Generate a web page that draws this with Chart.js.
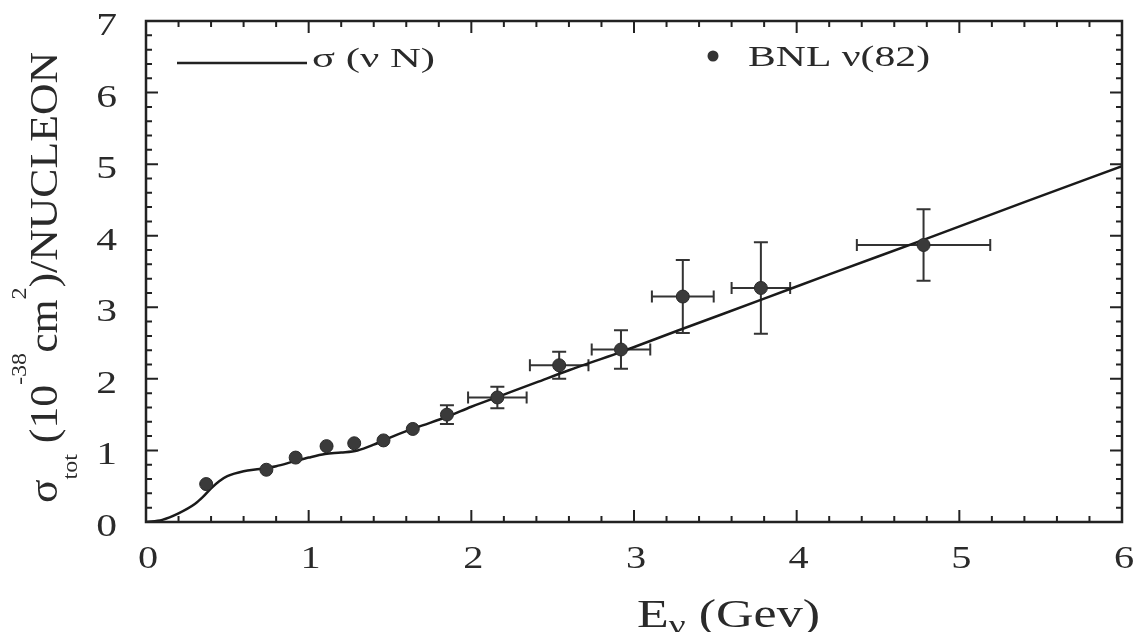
<!DOCTYPE html>
<html>
<head>
<meta charset="utf-8">
<script src="https://cdn.jsdelivr.net/npm/chart.js@4.4.1/dist/chart.umd.min.js"></script>
<style>
  html, body { margin: 0; padding: 0; background: #fff; }
  #wrap { width: 1140px; height: 632px; }
</style>
</head>
<body>
<div id="wrap"><canvas id="chart" width="1140" height="632"></canvas></div>
<script>
// BNL nu(82) measurements
const energy    = [0.37, 0.74, 0.92, 1.11, 1.28, 1.46, 1.64, 1.85, 2.16, 2.54, 2.92, 3.30, 3.78, 4.78];
const sigma     = [0.53, 0.73, 0.90, 1.06, 1.10, 1.14, 1.30, 1.50, 1.74, 2.19, 2.41, 3.15, 3.27, 3.87];
const energyErr = [0, 0, 0, 0, 0, 0, 0, 0, 0.18, 0.18, 0.18, 0.19, 0.18, 0.41];
const sigmaErr  = [0, 0, 0, 0, 0, 0, 0, 0.13, 0.15, 0.19, 0.27, 0.51, 0.64, 0.50];

// sigma(nu N) prediction
const curveE     = [0, 0.1, 0.2, 0.3, 0.35, 0.4, 0.45, 0.5, 0.6, 0.7, 0.8, 0.9, 1.0, 1.1, 1.2, 1.3, 1.4, 1.5, 1.6, 1.7, 1.85, 2.0, 2.2, 2.4, 2.6, 2.9, 3.3, 3.8, 4.2, 4.8, 5.4, 6.0];
const curveSigma = [0, 0.03, 0.12, 0.25, 0.35, 0.47, 0.57, 0.64, 0.71, 0.74, 0.78, 0.84, 0.90, 0.95, 0.97, 1.0, 1.08, 1.18, 1.27, 1.35, 1.47, 1.61, 1.78, 1.95, 2.12, 2.36, 2.70, 3.12, 3.46, 3.96, 4.47, 4.97];

const xTicks = [0, 1, 2, 3, 4, 5, 6];
const yTicks = [0, 1, 2, 3, 4, 5, 6, 7];

const INK = '#222';
const SERIF = '"Liberation Serif", "Times New Roman", serif';

// text with horizontal stretch (the scan is wider than plain Times)
function wideText(ctx, str, x, y, size, sx, align) {
    ctx.save();
    ctx.font = size + 'px ' + SERIF;
    const w = ctx.measureText(str).width * sx;
    const x0 = align === 'center' ? x - w / 2 : (align === 'right' ? x - w : x);
    ctx.translate(x0, y);
    ctx.scale(sx, 1);
    ctx.textAlign = 'left';
    ctx.textBaseline = 'alphabetic';
    ctx.fillText(str, 0, 0);
    ctx.restore();
}

// runs of text (sub/superscripts), stretched to fill a given length
function richText(ctx, runs, x, y, length) {
    ctx.save();
    ctx.textAlign = 'left';
    ctx.textBaseline = 'alphabetic';
    let total = 0;
    runs.forEach(r => { ctx.font = r.s + 'px ' + SERIF; r.w = ctx.measureText(r.t).width; total += r.w; });
    const sx = length / total;
    ctx.translate(x, y);
    ctx.scale(sx, 1);
    let cx = 0;
    runs.forEach(r => {
        ctx.font = r.s + 'px ' + SERIF;
        ctx.fillText(r.t, cx, r.dy || 0);
        cx += r.w;
    });
    ctx.restore();
}

const paperPlugin = {
    id: 'paper',
    beforeDatasetsDraw(chart) {
        const { ctx, scales: { x, y } } = chart;
        ctx.save();
        ctx.strokeStyle = '#333';
        ctx.lineWidth = 2;
        energy.forEach((e, i) => {
            const px = x.getPixelForValue(e);
            const py = y.getPixelForValue(sigma[i]);
            if (sigmaErr[i] > 0) {
                const t = y.getPixelForValue(sigma[i] + sigmaErr[i]);
                const b = y.getPixelForValue(sigma[i] - sigmaErr[i]);
                ctx.beginPath();
                ctx.moveTo(px, t); ctx.lineTo(px, b);
                ctx.moveTo(px - 7, t); ctx.lineTo(px + 7, t);
                ctx.moveTo(px - 7, b); ctx.lineTo(px + 7, b);
                ctx.stroke();
            }
            if (energyErr[i] > 0) {
                const l = x.getPixelForValue(e - energyErr[i]);
                const r = x.getPixelForValue(e + energyErr[i]);
                ctx.beginPath();
                ctx.moveTo(l, py); ctx.lineTo(r, py);
                ctx.moveTo(l, py - 6); ctx.lineTo(l, py + 6);
                ctx.moveTo(r, py - 6); ctx.lineTo(r, py + 6);
                ctx.stroke();
            }
        });
        ctx.restore();
    },
    afterDraw(chart) {
        const { ctx, chartArea: a, scales: { x, y } } = chart;
        ctx.save();
        ctx.strokeStyle = INK;
        ctx.fillStyle = INK;

        // frame
        ctx.lineWidth = 2.5;
        ctx.strokeRect(a.left, a.top, a.right - a.left, a.bottom - a.top);

        // inward ticks on all four sides, minor every 0.2
        ctx.lineWidth = 2;
        ctx.beginPath();
        for (let i = 0; i <= 30; i++) {
            const px = x.getPixelForValue(i / 5);
            const len = i % 5 === 0 ? 12 : 6;
            ctx.moveTo(px, a.bottom); ctx.lineTo(px, a.bottom - len);
            ctx.moveTo(px, a.top); ctx.lineTo(px, a.top + len);
        }
        for (let i = 0; i <= 35; i++) {
            const py = y.getPixelForValue(i / 5);
            const len = i % 5 === 0 ? 12 : 6;
            ctx.moveTo(a.left, py); ctx.lineTo(a.left + len, py);
            ctx.moveTo(a.right, py); ctx.lineTo(a.right - len, py);
        }
        ctx.stroke();

        // tick labels
        ctx.fillStyle = '#2a2a2a';
        xTicks.forEach(v => wideText(ctx, String(v), x.getPixelForValue(v) + 2, 568, 31, 1.3, 'center'));
        yTicks.forEach(v => wideText(ctx, String(v), 117, y.getPixelForValue(v) + 14, 32, 1.3, 'right'));

        // axis titles
        richText(ctx, [
            { t: 'E', s: 39 },
            { t: 'ν', s: 28, dy: 7 },
            { t: ' (Gev)', s: 39 }
        ], 637, 627, 183);

        ctx.save();
        ctx.translate(57, 503);
        ctx.rotate(-Math.PI / 2);
        richText(ctx, [
            { t: 'σ', s: 40 },
            { t: 'tot', s: 22, dy: 20 },
            { t: ' (10', s: 40 },
            { t: '-38', s: 22, dy: -31 },
            { t: 'cm', s: 40 },
            { t: '2', s: 22, dy: -31 },
            { t: ')/NUCLEON', s: 40 }
        ], 0, 0, 451);
        ctx.restore();

        // legend
        ctx.lineWidth = 2.5;
        ctx.beginPath();
        ctx.moveTo(177, 63); ctx.lineTo(307, 63);
        ctx.stroke();
        richText(ctx, [{ t: 'σ (ν N)', s: 27 }], 312, 67, 123);
        ctx.fillStyle = '#333';
        ctx.beginPath();
        ctx.arc(713, 56, 5.5, 0, Math.PI * 2);
        ctx.fill();
        ctx.fillStyle = '#2a2a2a';
        richText(ctx, [{ t: 'BNL ν(82)', s: 30 }], 748, 66, 182);

        ctx.restore();
    }
};

new Chart(document.getElementById('chart'), {
    type: 'scatter',
    data: {
        datasets: [
            {
                label: 'BNL ν(82)',
                data: energy.map((e, i) => ({ x: e, y: sigma[i] })),
                pointRadius: 6.5,
                pointBackgroundColor: '#3a3a3a',
                pointBorderColor: '#2a2a2a',
                pointBorderWidth: 1,
                showLine: false
            },
            {
                label: 'σ (ν N)',
                data: curveE.map((e, i) => ({ x: e, y: curveSigma[i] })),
                showLine: true,
                borderColor: '#1a1a1a',
                borderWidth: 2.5,
                pointRadius: 0,
                cubicInterpolationMode: 'monotone'
            }
        ]
    },
    options: {
        responsive: false,
        animation: false,
        layout: { padding: { top: 21, right: 18, left: 0, bottom: 0 } },
        plugins: { legend: { display: false }, tooltip: { enabled: false } },
        scales: {
            x: {
                type: 'linear', min: 0, max: 6,
                grid: { display: false }, border: { display: false },
                ticks: { display: false },
                afterFit(s) { s.height = 110; }
            },
            y: {
                type: 'linear', min: 0, max: 7,
                grid: { display: false }, border: { display: false },
                ticks: { display: false },
                afterFit(s) { s.width = 146; }
            }
        }
    },
    plugins: [paperPlugin]
});
</script>
</body>
</html>
